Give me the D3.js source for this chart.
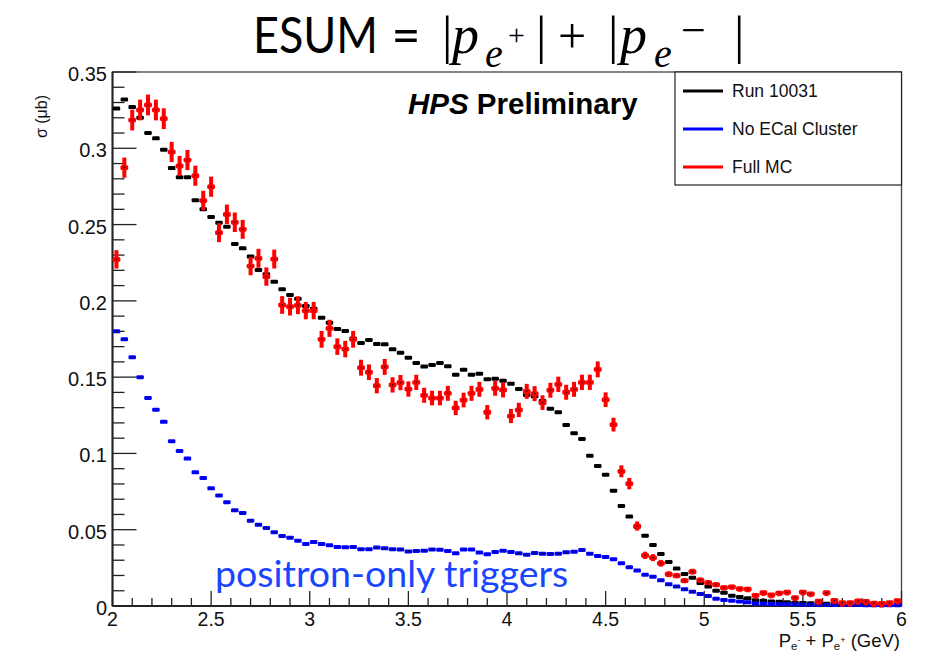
<!DOCTYPE html>
<html><head><meta charset="utf-8">
<script src="https://cdn.jsdelivr.net/npm/d3@7"></script>
<style>body{margin:0;background:#fff} svg{display:block}</style>
</head><body>
<svg id="c" width="925" height="654"></svg>
<script>
// ---- data (histogram bins of width 0.04 GeV from 2 to 6) ----
const binLow = 2, binWidth = 0.04, nBins = 100;
const binCenters = d3.range(nBins).map(i => +(binLow + binWidth * (i + 0.5)).toFixed(2));

const run10031 = [
0.326,0.332,0.327,0.320,0.310,0.3065,0.299,0.287,0.281,0.281,
0.266,0.260,0.255,0.2512,0.2486,0.2373,0.2344,0.229,0.2202,0.2174,
0.2126,0.2076,0.2038,0.2014,0.1966,0.1949,0.189,0.1857,0.1816,0.1802,
0.1754,0.1724,0.1743,0.1717,0.1715,0.1682,0.166,0.1627,0.1593,0.1569,
0.158,0.1593,0.1571,0.1516,0.1549,0.1516,0.1523,0.1486,0.149,0.1477,
0.1457,0.1422,0.1383,0.1374,0.1344,0.1293,0.127,0.1186,0.1132,0.1095,
0.0985,0.0918,0.0861,0.0756,0.0655,0.0586,0.052,0.0461,0.040,0.0341,
0.0288,0.0245,0.021,0.0185,0.0151,0.0127,0.010,0.0087,0.0068,0.0059,
0.005,0.0037,0.0035,0.003,0.0028,0.0024,0.0022,0.002,0.0018,0.0016,
0.0015,0.0013,0.0012,0.0011,0.001,0.0009,0.0008,0.0008,0.0007,0.0007];

const noECalCluster = [
0.180,0.1748,0.163,0.150,0.1363,0.1287,0.1207,0.108,0.1016,0.0966,
0.0876,0.0839,0.0771,0.0725,0.068,0.0627,0.061,0.0559,0.0533,0.0511,
0.0483,0.0459,0.0448,0.0428,0.0406,0.0419,0.0406,0.0398,0.0387,0.0385,
0.0387,0.0372,0.0372,0.0383,0.0378,0.0372,0.037,0.0358,0.036,0.0362,
0.037,0.0369,0.0360,0.0345,0.037,0.037,0.035,0.0339,0.0354,0.0362,
0.0354,0.0345,0.0336,0.0347,0.0343,0.0341,0.0343,0.0352,0.0356,0.0367,
0.0343,0.0328,0.0321,0.0306,0.028,0.0254,0.0232,0.0205,0.0192,0.0168,
0.0142,0.0127,0.011,0.0093,0.0079,0.0066,0.0048,0.004,0.0035,0.003,
0.0024,0.0017,0.0015,0.0013,0.0012,0.0011,0.001,0.0009,0.0008,0.0008,
0.0007,0.0007,0.0006,0.0006,0.0006,0.0005,0.0005,0.0005,0.0005,0.0005];

const fullMC = [
0.2272,0.2873,0.3185,0.3251,0.3284,0.3251,0.3194,0.2976,0.2884,0.2923,
0.282,0.2657,0.2748,0.2447,0.2567,0.2515,0.2469,0.2228,0.2279,0.2159,
0.2274,0.1973,0.1962,0.1971,0.1936,0.1936,0.1748,0.182,0.170,0.1684,
0.1748,0.1562,0.1532,0.1444,0.1567,0.1449,0.1464,0.1422,0.1466,0.1381,
0.1363,0.1363,0.1394,0.1298,0.135,0.1394,0.142,0.127,0.1427,0.1416,
0.1245,0.1285,0.1407,0.1392,0.1333,0.1414,0.1453,0.1401,0.142,0.1466,
0.1466,0.1551,0.1352,0.1189,0.0883,0.0802,0.0524,0.0332,0.0317,0.028,
0.0208,0.0199,0.0166,0.0225,0.017,0.0153,0.014,0.012,0.0125,0.0113,
0.011,0.007,0.0087,0.0072,0.0085,0.009,0.0054,0.009,0.0079,0.0031,
0.0087,0.0037,0.0022,0.0022,0.0033,0.003,0.0019,0.0017,0.0022,0.0035];

const fullMCErr = [
0.0060,0.0066,0.0068,0.0068,0.0068,0.0068,0.0068,0.0066,0.0066,0.0066,
0.0066,0.0064,0.0066,0.0062,0.0064,0.0064,0.0062,0.0060,0.0062,0.0060,
0.0062,0.0058,0.0058,0.0058,0.0057,0.0057,0.0055,0.0056,0.0054,0.0054,
0.0055,0.0052,0.0051,0.0050,0.0052,0.0050,0.0050,0.0050,0.0050,0.0049,
0.0048,0.0048,0.0049,0.0047,0.0048,0.0049,0.0049,0.0047,0.0049,0.0049,
0.0046,0.0047,0.0049,0.0049,0.0048,0.0049,0.0050,0.0049,0.0049,0.0050,
0.0050,0.0052,0.0048,0.0045,0.0039,0.0037,0.0030,0.0024,0.0023,0.0022,
0.0019,0.0018,0.0017,0.0019,0.0017,0.0016,0.0015,0.0014,0.0014,0.0013,
0.0013,0.0011,0.0012,0.0011,0.0012,0.0012,0.0010,0.0012,0.0012,0.0008,
0.0012,0.0008,0.0006,0.0006,0.0008,0.0007,0.0006,0.0006,0.0006,0.0008];

const xTicks = [2, 2.5, 3, 3.5, 4, 4.5, 5, 5.5, 6];
const yTicks = [0, 0.05, 0.1, 0.15, 0.2, 0.25, 0.3, 0.35];
const legendLabels = ["Run 10031", "No ECal Cluster", "Full MC"];
const seriesColors = ["#000000", "#0000ff", "#ff0000"];

// ---- drawing ----
const svg = d3.select("#c");
const L = 112.5, R = 901.5, T = 72, B = 606;
const x = d3.scaleLinear().domain([2, 6]).range([L, R]);
const y = d3.scaleLinear().domain([0, 0.35]).range([B, T]);
const sans = "'Liberation Sans', Arial, Helvetica, sans-serif";
const serif = "'Liberation Serif', 'Times New Roman', serif";

// frame
svg.append("rect").attr("x", L).attr("y", T).attr("width", R - L).attr("height", B - T)
  .attr("fill", "none").attr("stroke", "#444").attr("stroke-width", 1.3);

// y axis (ticks inside, minor every 0.01)
const yg = svg.append("g");
yg.selectAll("line").data(d3.range(0, 36)).join("line")
  .attr("x1", L).attr("x2", d => L + (d % 5 === 0 ? 24 : 12))
  .attr("y1", d => y(d * 0.01)).attr("y2", d => y(d * 0.01))
  .attr("stroke", "#222").attr("stroke-width", 1.3);
yg.selectAll("text").data(yTicks).join("text")
  .attr("x", 107).attr("y", d => y(d) + 2)
  .attr("text-anchor", "end").attr("dominant-baseline", "central")
  .attr("font-family", sans).attr("font-size", 20).attr("fill", "#111")
  .text(d => d3.format("")(d));
svg.append("line").attr("x1", L).attr("x2", L).attr("y1", T).attr("y2", B)
  .attr("stroke", "#222").attr("stroke-width", 2);

// x axis (ticks inside, minor every 0.1)
const xg = svg.append("g");
xg.selectAll("line").data(d3.range(0, 41)).join("line")
  .attr("x1", d => x(2 + d * 0.1)).attr("x2", d => x(2 + d * 0.1))
  .attr("y1", B).attr("y2", d => B - (d % 5 === 0 ? 15 : 8))
  .attr("stroke", "#222").attr("stroke-width", 1.3);
xg.selectAll("text").data(xTicks).join("text")
  .attr("x", d => x(d)).attr("y", 618.5)
  .attr("text-anchor", "middle").attr("dominant-baseline", "central")
  .attr("font-family", sans).attr("font-size", 19.5).attr("fill", "#111")
  .text(d => d3.format("")(d));
svg.append("line").attr("x1", L).attr("x2", R).attr("y1", B).attr("y2", B)
  .attr("stroke", "#222").attr("stroke-width", 2);

// series
const bw = x(2 + binWidth) - x(2);
function drawBars(vals, color, dotColor) {
  const g = svg.append("g");
  g.selectAll("rect").data(vals).join("rect")
    .attr("x", (d, i) => x(binCenters[i]) - bw / 2 + 0.2).attr("width", bw - 0.4)
    .attr("y", d => y(d) - 2).attr("height", 4).attr("rx", 1.2)
    .attr("fill", color);
  if (dotColor) {
    g.selectAll("circle").data(vals).join("circle")
      .attr("cx", (d, i) => x(binCenters[i])).attr("cy", d => y(d)).attr("r", 0.8)
      .attr("fill", dotColor);
  }
}
drawBars(run10031, seriesColors[0], null);
drawBars(noECalCluster, seriesColors[1], "#111");

const gm = svg.append("g");
gm.selectAll("rect.v").data(fullMC).join("rect").attr("class", "v")
  .attr("x", (d, i) => x(binCenters[i]) - 2).attr("width", 4)
  .attr("y", (d, i) => y(d + fullMCErr[i])).attr("height", (d, i) => Math.max(5, y(d - fullMCErr[i]) - y(d + fullMCErr[i])))
  .attr("fill", seriesColors[2]);
gm.selectAll("rect.h").data(fullMC).join("rect").attr("class", "h")
  .attr("x", (d, i) => x(binCenters[i]) - bw / 2).attr("width", bw)
  .attr("y", d => y(d) - 2.4).attr("height", 4.8).attr("rx", 1.6)
  .attr("fill", seriesColors[2]);
gm.selectAll("circle").data(fullMC).join("circle")
  .attr("cx", (d, i) => x(binCenters[i])).attr("cy", d => y(d)).attr("r", 0.8)
  .attr("fill", "#300");

// legend
const lg = svg.append("g");
lg.append("rect").attr("x", 675).attr("y", 72).attr("width", 226.5).attr("height", 113)
  .attr("fill", "#fff").attr("stroke", "#222").attr("stroke-width", 1.2);
legendLabels.forEach((lab, i) => {
  const ly = 91 + i * 38;
  lg.append("line").attr("x1", 683).attr("x2", 723).attr("y1", ly).attr("y2", ly)
    .attr("stroke", seriesColors[i]).attr("stroke-width", 3);
  lg.append("text").attr("x", 732).attr("y", ly).attr("dominant-baseline", "central")
    .attr("font-family", sans).attr("font-size", 17.5).attr("fill", "#111").text(lab);
});

// HPS Preliminary
const hps = svg.append("text").attr("x", 408).attr("y", 114)
  .attr("font-family", sans).attr("font-size", 29.5).attr("font-weight", "bold").attr("fill", "#000");
hps.append("tspan").attr("font-style", "italic").text("HPS");
hps.append("tspan").text(" Preliminary");

// positron-only triggers
svg.append("text").attr("x", 215).attr("y", 587)
  .attr("font-family", "Lato, 'Open Sans', sans-serif").attr("font-size", 37.5)
  .attr("fill", "#1a45ff").text("positron-only triggers");

// y-axis title
svg.append("text").attr("transform", "translate(47,95) rotate(-90)")
  .attr("text-anchor", "end").attr("font-family", sans).attr("font-size", 16)
  .attr("fill", "#111").text("σ (μb)");

// x-axis title
const xt = svg.append("text").attr("x", 900).attr("y", 647).attr("text-anchor", "end")
  .attr("font-family", sans).attr("font-size", 18.5).attr("fill", "#111");
xt.append("tspan").text("P");
xt.append("tspan").attr("font-size", 11.5).attr("dy", 3).text("e");
xt.append("tspan").attr("font-size", 9).attr("dy", -7).text("-");
xt.append("tspan").attr("dy", 4).text(" + P");
xt.append("tspan").attr("font-size", 11.5).attr("dy", 3).text("e");
xt.append("tspan").attr("font-size", 9).attr("dy", -7).text("+");
xt.append("tspan").attr("dy", 4).text(" (GeV)");

// title: ESUM = |p_{e+}| + |p_{e-}|
const tg = svg.append("g").attr("fill", "#000");
tg.append("text").attr("x", 253).attr("y", 53).attr("font-family", "Lato, sans-serif")
  .attr("font-size", 50).attr("textLength", 125).attr("lengthAdjust", "spacingAndGlyphs").text("ESUM");
tg.append("text").attr("x", 406).attr("y", 53).attr("text-anchor", "middle").attr("font-family", "Lato, sans-serif")
  .attr("font-size", 50).text("=");
const titleParts = [
  {t: "|", x: 442, y: 53, s: 52, it: false},
  {t: "p", x: 452, y: 53, s: 54, it: true},
  {t: "e", x: 485, y: 67, s: 40, it: true},
  {t: "+", x: 508, y: 45, s: 30, it: false},
  {t: "|", x: 536, y: 53, s: 52, it: false},
  {t: "+", x: 558, y: 53, s: 50, it: false},
  {t: "|", x: 608, y: 53, s: 52, it: false},
  {t: "p", x: 620, y: 53, s: 54, it: true},
  {t: "e", x: 654, y: 67, s: 40, it: true},
  {t: "−", x: 681, y: 45, s: 44, it: false},
  {t: "|", x: 734, y: 53, s: 52, it: false}
];
tg.selectAll("text.m").data(titleParts).join("text").attr("class", "m")
  .attr("x", d => d.x).attr("y", d => d.y).attr("font-family", serif)
  .attr("font-size", d => d.s).attr("font-style", d => d.it ? "italic" : "normal")
  .text(d => d.t);
</script>
</body></html>
